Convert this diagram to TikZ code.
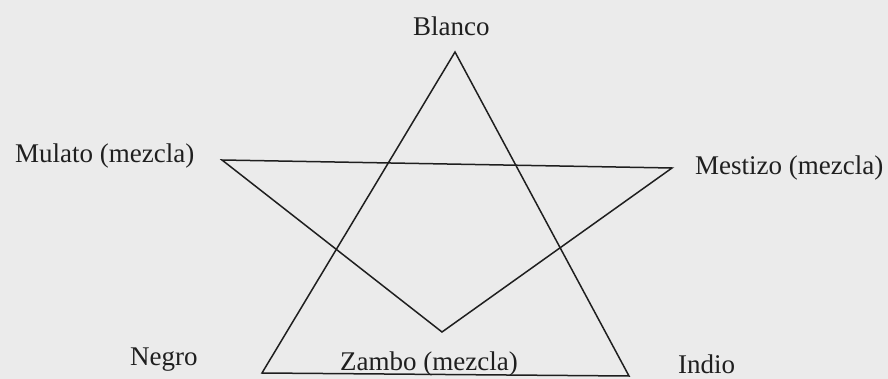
\documentclass[tikz,border=0pt]{standalone}
\usepackage{fontspec}
\setmainfont{Liberation Serif}
\begin{document}
\begin{tikzpicture}[x=1pt,y=-1pt,
  lbl/.style={anchor=base west,inner sep=0pt,font=\fontsize{27}{31}\selectfont,text=black!88},
  edge/.style={draw=black!88,line width=1.5pt,line join=miter}]
\fill[black!8] (0,0) rectangle (888,379);
\useasboundingbox (0,0) rectangle (888,379);
% upward triangle
\coordinate (up1) at (455,52);
\coordinate (up2) at (262,373);
\coordinate (up3) at (629,376);
% downward triangle
\coordinate (dn1) at (222,160);
\coordinate (dn2) at (672,168);
\coordinate (dn3) at (442,332);
\draw[edge] (up1) -- (up2) -- (up3) -- cycle;
\draw[edge] (dn1) -- (dn2) -- (dn3) -- cycle;
\node[lbl] (blanco) at (413,36) {Blanco};
\node[lbl] (mulato) at (15,163) {Mulato (mezcla)};
\node[lbl] (mestizo) at (695,175) {Mestizo (mezcla)};
\node[lbl] (negro) at (130,365) {Negro};
\node[lbl] (zambo) at (340,370) {Zambo (mezcla)};
\node[lbl] (indio) at (678,373) {Indio};
\end{tikzpicture}
\end{document}
